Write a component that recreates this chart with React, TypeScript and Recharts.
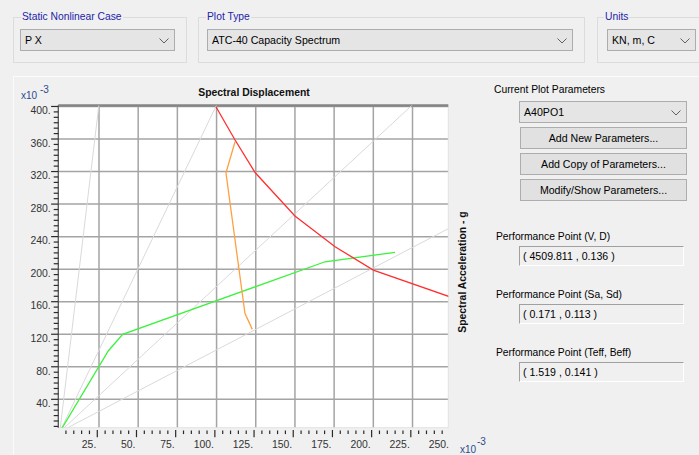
import React from "react";
import { LineChart, Line, XAxis, YAxis, CartesianGrid, ReferenceLine } from "recharts";

const FONT = '"Liberation Sans", Arial, Helvetica, sans-serif';

// ---- data (x10^-3) : Spectral displacement (x) vs spectral acceleration (y)
const capacityCurve = [
  { x: 0, y: 0 },
  { x: 30.9, y: 99.4 },
  { x: 40.1, y: 119.9 },
  { x: 169.2, y: 209.1 },
  { x: 213.8, y: 220.7 },
];
const demandSpectrum = [
  { x: 99.6, y: 399.7 },
  { x: 111.8, y: 358.8 },
  { x: 124.7, y: 318.5 },
  { x: 150.0, y: 265.4 },
  { x: 175.6, y: 227.6 },
  { x: 200.0, y: 198.9 },
  { x: 298.0, y: 133.0 },
];
const singleDemand = [
  { x: 111.8, y: 356.7 },
  { x: 106.0, y: 318.5 },
  { x: 118.1, y: 145.7 },
  { x: 122.8, y: 126.0 },
];
const periodLineA = [{ x: 0, y: 0 }, { x: 26, y: 419 }];
const periodLineB = [{ x: 0, y: 0 }, { x: 105, y: 422 }];
const periodLineC = [{ x: 0, y: 0 }, { x: 235, y: 420 }];
const periodLineD = [{ x: 0, y: 0 }, { x: 260, y: 262 }];

const xGridValues = [25, 50, 75, 100, 125, 150, 175, 200, 225];
const yGridValues = [40, 80, 120, 160, 200, 240, 280, 320, 360, 400];

const X_MIN = -0.96;
const X_MAX = 247.83;
const Y_MIN = 5.1;
const Y_MAX = 401.2;

const xMinorStep = 5;
const yMinorDiv = 6;

const xTicks: number[] = [];
for (let v = xMinorStep; v <= 250; v += xMinorStep) xTicks.push(v);
const yTicks: number[] = [];
for (let m = 0; m < 400; m += 40) {
  for (let k = 1; k <= yMinorDiv; k++) {
    const v = m + (40 * k) / yMinorDiv;
    if (v >= Y_MIN && v <= Y_MAX) yTicks.push(Math.round(v * 1000) / 1000);
  }
}

const caseValue = "P X";
const plotTypeValue = "ATC-40 Capacity Spectrum";
const unitsValue = "KN, m, C";
const paramsValue = "A40PO1";
const buttons = ["Add New Parameters...", "Add Copy of Parameters...", "Modify/Show Parameters..."];
const perfLabels = ["Performance Point (V, D)", "Performance Point (Sa, Sd)", "Performance Point (Teff, Beff)"];
const perfValues = ["( 4509.811 , 0.136 )", "( 0.171 , 0.113 )", "( 1.519 , 0.141 )"];

const isMajor = (v: number, step: number) => Math.abs(v / step - Math.round(v / step)) < 1e-6;

const XTick = (props: any) => {
  const { x, y, payload } = props;
  const v = payload.value as number;
  const major = isMajor(v, 25);
  const tx = x - 1.7;
  return (
    <g>
      {v <= X_MAX && (
        <line x1={tx} x2={tx} y1={y + (major ? 2.3 : 2.8)} y2={y + (major ? 9.5 : 6.4)} stroke="#2a2a2a" strokeWidth={1.2} />
      )}
      {major && (
        <text x={x - 2.7} y={y + 20} textAnchor="end" fontSize={10.4} fill="#333" fontFamily={FONT}>
          {`${v}.`}
        </text>
      )}
    </g>
  );
};

const YTick = (props: any) => {
  const { x, y, payload } = props;
  const v = payload.value as number;
  const major = isMajor(v, 40);
  return (
    <g>
      <line x1={x - (major ? 7.2 : 4.6)} x2={x} y1={y} y2={y} stroke="#2a2a2a" strokeWidth={1.2} />
      {major && (
        <text x={x - 7.6} y={y + 7.8} textAnchor="end" fontSize={10.4} fill="#333" fontFamily={FONT}>
          {`${v}.`}
        </text>
      )}
    </g>
  );
};

const Chevron = ({ left, top }: { left: number; top: number }) => (
  <svg style={{ position: "absolute", left, top }} width={10} height={6}>
    <polyline points="0.5,0.5 5,5 9.5,0.5" fill="none" stroke="#606060" strokeWidth={1} />
  </svg>
);

const Combo = ({ left, top, width, height, text }: any) => (
  <div
    style={{
      position: "absolute",
      left,
      top,
      width,
      height,
      boxSizing: "border-box",
      border: "1px solid #adadad",
      background: "#e5e5e5",
    }}
  >
    <div style={{ position: "absolute", left: 4, top: 0, lineHeight: `${height - 2}px`, fontSize: 10.6, color: "#000", whiteSpace: "nowrap" }}>
      {text}
    </div>
    <Chevron left={width - 17} top={(height - 2) / 2 - 2} />
  </div>
);

const Button = ({ left, top, width, height, text }: any) => (
  <div
    style={{
      position: "absolute",
      left,
      top,
      width,
      height,
      boxSizing: "border-box",
      border: "1px solid #adadad",
      background: "#e1e1e1",
      textAlign: "center",
      lineHeight: `${height - 2}px`,
      fontSize: 10.6,
      color: "#000",
      whiteSpace: "nowrap",
    }}
  >
    {text}
  </div>
);

const TextBox = ({ left, top, width, height, text }: any) => (
  <div
    style={{
      position: "absolute",
      left,
      top,
      width,
      height,
      boxSizing: "border-box",
      borderTop: "1px solid #a0a0a0",
      borderLeft: "1px solid #a0a0a0",
      borderRight: "1px solid #ffffff",
      borderBottom: "1px solid #ffffff",
      background: "#f0f0f0",
      lineHeight: `${height - 2}px`,
      fontSize: 10.6,
      paddingLeft: 3,
      color: "#000",
      whiteSpace: "nowrap",
    }}
  >
    {text}
  </div>
);

const GroupBox = ({ left, top, width, height, label, labelLeft }: any) => (
  <>
    <div
      style={{
        position: "absolute",
        left,
        top,
        width,
        height,
        boxSizing: "border-box",
        border: "1px solid #dcdcdc",
      }}
    />
    <div
      style={{
        position: "absolute",
        left: labelLeft,
        top: top - 6,
        lineHeight: "12px",
        fontSize: 10.3,
        color: "#2323a8",
        background: "#f0f0f0",
        padding: "0 1px",
        whiteSpace: "nowrap",
      }}
    >
      {label}
    </div>
  </>
);

const Label = ({ left, top, text, size = 10.3, color = "#000" }: any) => (
  <div style={{ position: "absolute", left, top, lineHeight: "12px", fontSize: size, color, whiteSpace: "nowrap" }}>{text}</div>
);

export default function App() {
  return (
    <div
      style={{
        position: "absolute",
        left: 0,
        top: 0,
        width: 699,
        height: 455,
        background: "#f0f0f0",
        overflow: "hidden",
        fontFamily: FONT,
      }}
    >
      {/* top group boxes */}
      <GroupBox left={13} top={17} width={174} height={46} label="Static Nonlinear Case" labelLeft={21} />
      <Combo left={20} top={29} width={155} height={22} text={caseValue} />
      <GroupBox left={198} top={17} width={387} height={46} label="Plot Type" labelLeft={206} />
      <Combo left={207} top={29} width={366} height={22} text={plotTypeValue} />
      <GroupBox left={597} top={17} width={110} height={46} label="Units" labelLeft={604} />
      <Combo left={607} top={29} width={89} height={22} text={unitsValue} />

      {/* chart panel border */}
      <div style={{ position: "absolute", left: 13, top: 76, width: 700, height: 400, borderLeft: "1px solid #fbfbfb", borderTop: "1px solid #fbfbfb" }} />

      {/* chart */}
      <div style={{ position: "absolute", left: 0, top: 76 }}>
        <LineChart width={480} height={379} margin={{ top: 29.5, right: 31.7, bottom: 0, left: 0 }}>
          <CartesianGrid
            horizontalValues={yGridValues}
            verticalValues={xGridValues}
            stroke="#a4a4a4"
            strokeWidth={1.5}
            fill="#ffffff"
            fillOpacity={1}
          />
          <XAxis
            type="number"
            dataKey="x"
            domain={[X_MIN, X_MAX]}
            allowDataOverflow
            ticks={xTicks}
            interval={0}
            tickSize={0}
            tickMargin={0}
            axisLine={false}
            tickLine={false}
            tick={<XTick />}
            height={27.3}
          />
          <YAxis
            type="number"
            dataKey="y"
            domain={[Y_MIN, Y_MAX]}
            allowDataOverflow
            ticks={yTicks}
            interval={0}
            tickSize={0}
            tickMargin={0}
            axisLine={{ stroke: "#555555", strokeWidth: 1.3 }}
            tickLine={false}
            tick={<YTick />}
            width={58.3}
          />
          <ReferenceLine y={Y_MIN} stroke="#e2e2e2" strokeWidth={1} />
          <ReferenceLine x={X_MAX} stroke="#e2e2e2" strokeWidth={1} />
          <ReferenceLine y={Y_MAX} stroke="#858585" strokeWidth={2.4} />
          <Line data={periodLineA} dataKey="y" stroke="#d9d9d9" strokeWidth={1} dot={false} isAnimationActive={false} />
          <Line data={periodLineB} dataKey="y" stroke="#d9d9d9" strokeWidth={1} dot={false} isAnimationActive={false} />
          <Line data={periodLineC} dataKey="y" stroke="#d9d9d9" strokeWidth={1} dot={false} isAnimationActive={false} />
          <Line data={periodLineD} dataKey="y" stroke="#d9d9d9" strokeWidth={1} dot={false} isAnimationActive={false} />
          <Line data={capacityCurve} dataKey="y" stroke="#3cf23c" strokeWidth={1.3} dot={false} isAnimationActive={false} />
          <Line data={demandSpectrum} dataKey="y" stroke="#ff3030" strokeWidth={1.3} dot={false} isAnimationActive={false} />
          <Line data={singleDemand} dataKey="y" stroke="#ffa040" strokeWidth={1.3} dot={false} isAnimationActive={false} />
        </LineChart>
      </div>

      {/* chart texts */}
      <div
        style={{
          position: "absolute",
          left: 154,
          top: 87,
          width: 200,
          textAlign: "center",
          lineHeight: "12px",
          fontSize: 10.4,
          fontWeight: "bold",
          color: "#111",
        }}
      >
        Spectral Displacement
      </div>
      <div
        style={{
          position: "absolute",
          left: 463,
          top: 272,
          transform: "translate(-50%, -50%) rotate(-90deg)",
          whiteSpace: "nowrap",
          lineHeight: "12px",
          fontSize: 10.4,
          fontWeight: "bold",
          color: "#111",
        }}
      >
        Spectral Acceleration - g
      </div>
      <Label left={21} top={90} text="x10" size={10} color="#2b4a8c" />
      <Label left={40} top={84} text="-3" size={10} color="#2b4a8c" />
      <Label left={460} top={444} text="x10" size={10} color="#2b4a8c" />
      <Label left={477} top={436} text="-3" size={10} color="#2b4a8c" />

      {/* right panel */}
      <Label left={494} top={84} text="Current Plot Parameters" />
      <Combo left={519} top={101} width={168} height={22} text={paramsValue} />
      {buttons.map((b, i) => (
        <Button key={b} left={520} top={127 + i * 26} width={167} height={22} text={b} />
      ))}
      {perfLabels.map((l, i) => (
        <React.Fragment key={l}>
          <Label left={496} top={231 + i * 58} text={l} />
          <TextBox left={519} top={245.5 + i * 58.3} width={165} height={20} text={perfValues[i]} />
        </React.Fragment>
      ))}
    </div>
  );
}
